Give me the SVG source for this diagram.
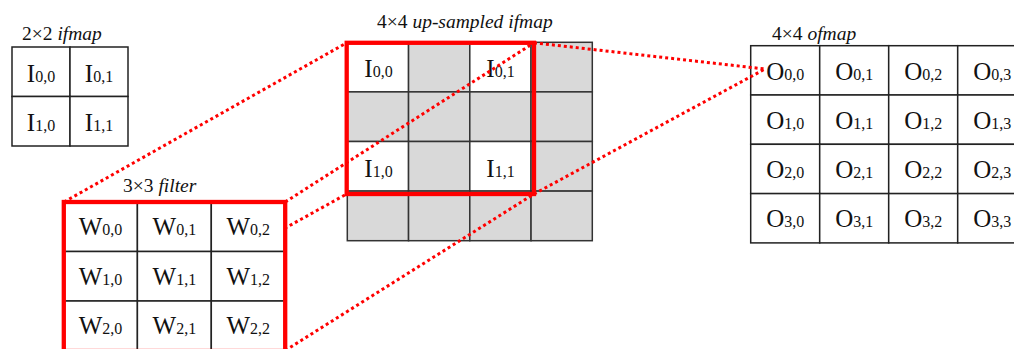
<svg xmlns="http://www.w3.org/2000/svg" width="1014" height="349" viewBox="0 0 1014 349">
<style>
.bg{fill:#fff}
.cell{fill:#fff;stroke:#222;stroke-width:1.5}
.gray{fill:#d9d9d9;stroke:#333;stroke-width:1.5}
.wcell{fill:#fff;stroke:#333;stroke-width:1.5}
.red{fill:none;stroke:#ff0000;stroke-width:4.3}
.t{font-family:"Liberation Serif",serif;font-size:25px;fill:#111;text-anchor:middle}
.s{font-size:16px}
.title{font-family:"Liberation Serif",serif;font-size:19.5px;fill:#111}
.it{font-style:italic}
.dot{fill:none;stroke:#ff0000;stroke-width:3;stroke-dasharray:3 3}
</style>
<rect class="bg" x="0" y="0" width="1014" height="349"/>

<g id="ifmap">
<text class="title" x="22" y="40">2×2 <tspan class="it">ifmap</tspan></text>
<rect class="cell" x="12" y="47" width="58" height="49.5"/>
<rect class="cell" x="70" y="47" width="58" height="49.5"/>
<rect class="cell" x="12" y="96.5" width="58" height="49.5"/>
<rect class="cell" x="70" y="96.5" width="58" height="49.5"/>
<text class="t" x="41" y="82">I<tspan class="s">0,0</tspan></text>
<text class="t" x="99" y="82">I<tspan class="s">0,1</tspan></text>
<text class="t" x="41" y="131">I<tspan class="s">1,0</tspan></text>
<text class="t" x="99" y="131">I<tspan class="s">1,1</tspan></text>
</g>

<g id="upsampled">
<text class="title" x="377" y="28">4×4 <tspan class="it">up-sampled ifmap</tspan></text>
<rect class="wcell" x="347.3" y="42.3" width="61.25" height="49.6"/>
<rect class="gray" x="408.55" y="42.3" width="61.25" height="49.6"/>
<rect class="wcell" x="469.8" y="42.3" width="61.25" height="49.6"/>
<rect class="gray" x="531.05" y="42.3" width="61.25" height="49.6"/>
<rect class="gray" x="347.3" y="91.9" width="61.25" height="49.6"/>
<rect class="gray" x="408.55" y="91.9" width="61.25" height="49.6"/>
<rect class="gray" x="469.8" y="91.9" width="61.25" height="49.6"/>
<rect class="gray" x="531.05" y="91.9" width="61.25" height="49.6"/>
<rect class="wcell" x="347.3" y="141.5" width="61.25" height="49.6"/>
<rect class="gray" x="408.55" y="141.5" width="61.25" height="49.6"/>
<rect class="wcell" x="469.8" y="141.5" width="61.25" height="49.6"/>
<rect class="gray" x="531.05" y="141.5" width="61.25" height="49.6"/>
<rect class="gray" x="347.3" y="191.1" width="61.25" height="49.6"/>
<rect class="gray" x="408.55" y="191.1" width="61.25" height="49.6"/>
<rect class="gray" x="469.8" y="191.1" width="61.25" height="49.6"/>
<rect class="gray" x="531.05" y="191.1" width="61.25" height="49.6"/>
<text class="t" x="378.5" y="77">I<tspan class="s">0,0</tspan></text>
<text class="t" x="500.5" y="77">I<tspan class="s">0,1</tspan></text>
<text class="t" x="378.5" y="176.5">I<tspan class="s">1,0</tspan></text>
<text class="t" x="500.5" y="176.5">I<tspan class="s">1,1</tspan></text>
<rect class="red" x="346.7" y="42.8" width="187.3" height="151.2"/>
</g>

<g id="ofmap">
<text class="title" x="772" y="40">4×4 <tspan class="it">ofmap</tspan></text>
<rect class="cell" x="750.7" y="45.7" width="69" height="49.3"/>
<rect class="cell" x="819.7" y="45.7" width="69" height="49.3"/>
<rect class="cell" x="888.7" y="45.7" width="69" height="49.3"/>
<rect class="cell" x="957.7" y="45.7" width="69" height="49.3"/>
<rect class="cell" x="750.7" y="95" width="69" height="49.3"/>
<rect class="cell" x="819.7" y="95" width="69" height="49.3"/>
<rect class="cell" x="888.7" y="95" width="69" height="49.3"/>
<rect class="cell" x="957.7" y="95" width="69" height="49.3"/>
<rect class="cell" x="750.7" y="144.3" width="69" height="49.3"/>
<rect class="cell" x="819.7" y="144.3" width="69" height="49.3"/>
<rect class="cell" x="888.7" y="144.3" width="69" height="49.3"/>
<rect class="cell" x="957.7" y="144.3" width="69" height="49.3"/>
<rect class="cell" x="750.7" y="193.6" width="69" height="49.3"/>
<rect class="cell" x="819.7" y="193.6" width="69" height="49.3"/>
<rect class="cell" x="888.7" y="193.6" width="69" height="49.3"/>
<rect class="cell" x="957.7" y="193.6" width="69" height="49.3"/>
<text class="t" x="785.2" y="79.5">O<tspan class="s">0,0</tspan></text>
<text class="t" x="854.2" y="79.5">O<tspan class="s">0,1</tspan></text>
<text class="t" x="923.2" y="79.5">O<tspan class="s">0,2</tspan></text>
<text class="t" x="992.2" y="79.5">O<tspan class="s">0,3</tspan></text>
<text class="t" x="785.2" y="128.8">O<tspan class="s">1,0</tspan></text>
<text class="t" x="854.2" y="128.8">O<tspan class="s">1,1</tspan></text>
<text class="t" x="923.2" y="128.8">O<tspan class="s">1,2</tspan></text>
<text class="t" x="992.2" y="128.8">O<tspan class="s">1,3</tspan></text>
<text class="t" x="785.2" y="178.1">O<tspan class="s">2,0</tspan></text>
<text class="t" x="854.2" y="178.1">O<tspan class="s">2,1</tspan></text>
<text class="t" x="923.2" y="178.1">O<tspan class="s">2,2</tspan></text>
<text class="t" x="992.2" y="178.1">O<tspan class="s">2,3</tspan></text>
<text class="t" x="785.2" y="227.4">O<tspan class="s">3,0</tspan></text>
<text class="t" x="854.2" y="227.4">O<tspan class="s">3,1</tspan></text>
<text class="t" x="923.2" y="227.4">O<tspan class="s">3,2</tspan></text>
<text class="t" x="992.2" y="227.4">O<tspan class="s">3,3</tspan></text>
</g>

<g id="connectors">
<line class="dot" x1="64" y1="202" x2="346.7" y2="42.8"/>
<line class="dot" x1="285.2" y1="202" x2="534" y2="42.8"/>
<line class="dot" x1="64" y1="350.5" x2="346.7" y2="194"/>
<line class="dot" x1="285.2" y1="350.5" x2="534" y2="194"/>
<line class="dot" x1="534" y1="42.8" x2="765" y2="69"/>
<line class="dot" x1="534" y1="194" x2="765" y2="69"/>
</g>

<g id="filter">
<text class="title" x="123" y="192">3×3 <tspan class="it">filter</tspan></text>
<rect class="cell" x="63.5" y="202" width="73.9" height="49.5"/>
<rect class="cell" x="137.4" y="202" width="73.9" height="49.5"/>
<rect class="cell" x="211.3" y="202" width="73.9" height="49.5"/>
<rect class="cell" x="63.5" y="251.5" width="73.9" height="49.5"/>
<rect class="cell" x="137.4" y="251.5" width="73.9" height="49.5"/>
<rect class="cell" x="211.3" y="251.5" width="73.9" height="49.5"/>
<rect class="cell" x="63.5" y="301" width="73.9" height="49.5"/>
<rect class="cell" x="137.4" y="301" width="73.9" height="49.5"/>
<rect class="cell" x="211.3" y="301" width="73.9" height="49.5"/>
<text class="t" x="100.5" y="235">W<tspan class="s">0,0</tspan></text>
<text class="t" x="174.4" y="235">W<tspan class="s">0,1</tspan></text>
<text class="t" x="248.3" y="235">W<tspan class="s">0,2</tspan></text>
<text class="t" x="100.5" y="284.5">W<tspan class="s">1,0</tspan></text>
<text class="t" x="174.4" y="284.5">W<tspan class="s">1,1</tspan></text>
<text class="t" x="248.3" y="284.5">W<tspan class="s">1,2</tspan></text>
<text class="t" x="100.5" y="334">W<tspan class="s">2,0</tspan></text>
<text class="t" x="174.4" y="334">W<tspan class="s">2,1</tspan></text>
<text class="t" x="248.3" y="334">W<tspan class="s">2,2</tspan></text>
<rect class="red" x="63.8" y="202" width="221.4" height="149"/>
</g>
</svg>
